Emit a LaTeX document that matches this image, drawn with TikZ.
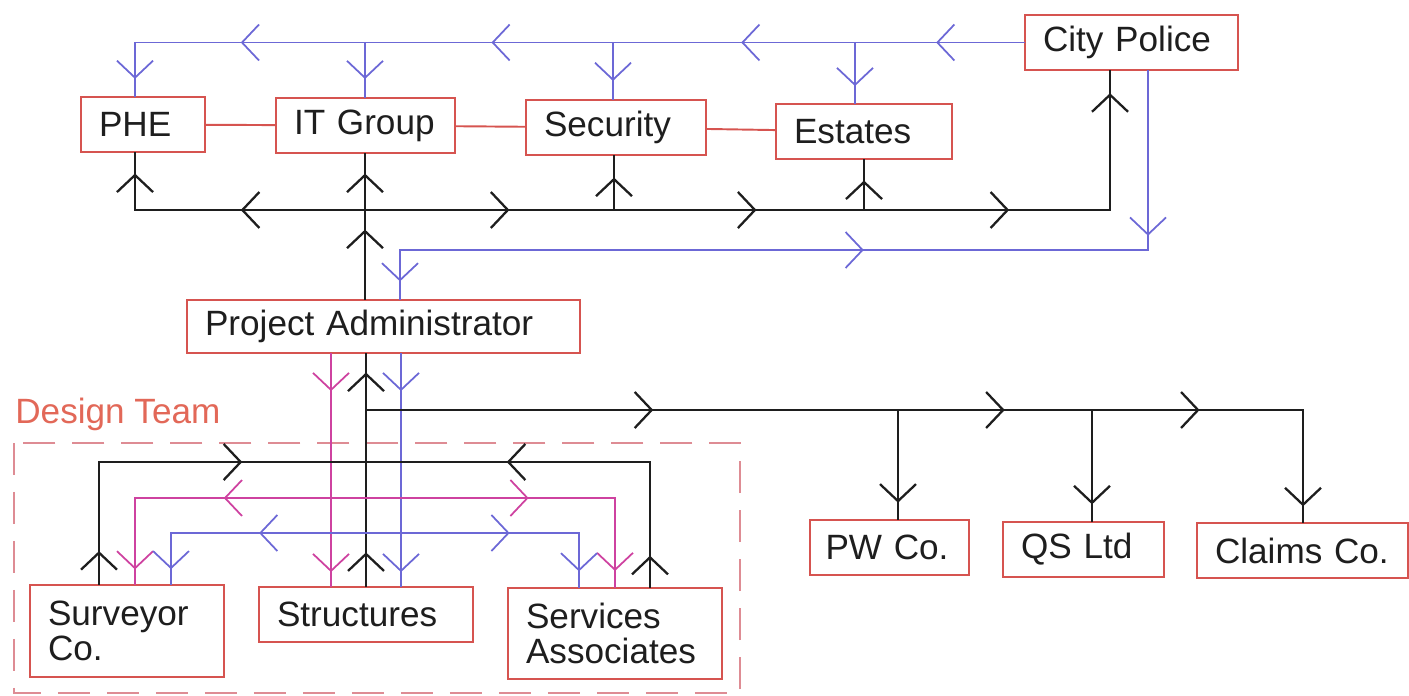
\documentclass[tikz,border=0pt]{standalone}
\usepackage{fontspec}
\setmainfont{Liberation Sans}
\usetikzlibrary{arrows.meta,decorations.markings}

\definecolor{boxred}{RGB}{214,84,80}
\definecolor{teamred}{RGB}{226,104,88}
\definecolor{dashred}{RGB}{222,140,148}
\definecolor{lineblue}{RGB}{108,104,214}
\definecolor{linemag}{RGB}{206,66,160}
\definecolor{lineblk}{RGB}{30,30,30}

\newcommand{\unitfont}{\fontsize{20}{20}\selectfont}

\tikzset{
  unit/.style={draw=boxred, line width=1.1pt, inner xsep=0.36cm, inner ysep=0pt,
    align=left, font=\unitfont, text=lineblk},
  blk/.style={draw=lineblk, line width=1.3pt, line cap=rect},
  blu/.style={draw=lineblue, line width=1pt, line cap=rect},
  mag/.style={draw=linemag, line width=1pt, line cap=rect},
  mid/.style={postaction={decorate,decoration={markings,
    mark=at position #1 with {\arrow{>}}}}},
  midrev/.style={postaction={decorate,decoration={markings,
    mark=at position #1 with {\arrowreversed{>}}}}},
}

\begin{document}
\begin{tikzpicture}[x=0.02cm, y=-0.02cm, >={Straight Barb[length=0.34cm,width=0.72cm]}]
        \useasboundingbox (0,0) rectangle (1409,696);

        \node[unit, text width=1.76cm, minimum height=1.1cm] (phe) at (143,124.5) {PHE};
        \node[unit, text width=2.86cm, minimum height=1.1cm] (it) at (365.5,125.5) {IT Group};
        \node[unit, text width=2.88cm, minimum height=1.1cm] (sec) at (616,127.5) {Security};
        \node[unit, text width=2.8cm, minimum height=1.1cm] (est) at (864,131.5) {Estates};
        \node[unit, text width=3.54cm, minimum height=1.1cm] (cp) at (1131.5,42.5) {City Police};

        \node[unit, text width=7.14cm, minimum height=1.06cm] (pa) at (383.5,326.5) {Project Administrator};

        \node[unit, text width=3.16cm, minimum height=1.84cm] (sur) at (127,631) {Surveyor\\Co.};
        \node[unit, text width=3.56cm, minimum height=1.1cm] (str) at (366,614.5) {Structures};
        \node[unit, text width=3.56cm, minimum height=1.82cm] (ser) at (615,633.5) {Services\\Associates};

        \node[unit, inner xsep=0.31cm, text width=2.56cm, minimum height=1.1cm] (pw) at (889.5,547.5) {PW Co.};
        \node[unit, text width=2.5cm, minimum height=1.1cm] (qs) at (1083.5,549.5) {QS Ltd};
        \node[unit, text width=3.5cm, minimum height=1.1cm] (cl) at (1302.5,550.5) {Claims Co.};

        \draw[draw=boxred, line width=1.1pt] (phe) -- (it);
        \draw[draw=boxred, line width=1.1pt] (it) -- (sec);
        \draw[draw=boxred, line width=1.1pt] (sec) -- (est);

        % design team frame
        \draw[draw=dashred, line width=0.8pt, dash pattern=on 0.64cm off 0.34cm] (14,443) rectangle (740,693);
        \node[anchor=base west, inner sep=0pt, font=\unitfont, text=teamred] (dt) at (15,423) {Design Team};

        % blue bus from City Police
        \coordinate (b0) at (135,42.5);
        \coordinate (b1) at (365,42.5);
        \coordinate (b2) at (613,42.5);
        \coordinate (b3) at (855,42.5);
        \draw[blu, mid=0.52] (cp.west) -- (b3);
        \draw[blu, mid=0.47] (b3) -- (b2);
        \draw[blu, mid=0.49] (b2) -- (b1);
        \draw[blu, mid=0.54] (b1) -- (b0);
        \draw[blu, mid=0.68] (b0) -- (b0 |- phe.north);
        \draw[blu, mid=0.67] (b1) -- (b1 |- it.north);
        \draw[blu, mid=0.68] (b2) -- (b2 |- sec.north);
        \draw[blu, mid=0.72] (b3) -- (b3 |- est.north);

        % black bus from the administrator
        \coordinate (k0) at (135,210);
        \coordinate (k1) at (365,210);
        \coordinate (k2) at (614,210);
        \coordinate (k3) at (864,210);
        \coordinate (k4) at (1110,210);
        \draw[blk, mid=0.78] (k1 |- pa.north) -- (k1);
        \draw[blk, mid=0.65] (k1) -- (k1 |- it.south);
        \draw[blk, mid=0.54] (k1) -- (k0);
        \draw[blk, mid=0.64] (k0) -- (k0 |- phe.south);
        \draw[blk, mid=0.58] (k1) -- (k2);
        \draw[blk, mid=0.57] (k2) -- (k3);
        \draw[blk, mid=0.59] (k3) -- (k4);
        \draw[blk, mid=0.84] (k4) -- (k4 |- cp.south);
        \draw[blk, mid=0.6] (k2) -- (k2 |- sec.south);
        \draw[blk, mid=0.59] (k3) -- (k3 |- est.south);

        % blue return to the administrator
        \coordinate (c0) at (1148,250);
        \coordinate (c1) at (400,250);
        \draw[blu, mid=0.92] (c0 |- cp.south) -- (c0);
        \draw[blu, midrev=0.38] (c0) -- (c1);
        \draw[blu, mid=0.64] (c1) -- (c1 |- pa.north);

        % administrator down to structures
        \coordinate (xm) at (331,400);
        \coordinate (xk) at (366,410);
        \coordinate (xb) at (401,400);
        \draw[mag, mid=0.16, mid=0.94] (xm |- pa.south) -- (xm |- str.north);
        \draw[blu, mid=0.16, mid=0.94] (xb |- pa.south) -- (xb |- str.north);
        \draw[blk, mid=0.145, mid=0.92] (xk |- str.north) -- (xk |- pa.south);

        % black bus to the consultants
        \coordinate (d1) at (898,410);
        \coordinate (d2) at (1092,410);
        \coordinate (d3) at (1303,410);
        \draw[blk, mid=0.54] (xk) -- (d1);
        \draw[blk, mid=0.55] (d1) -- (d2);
        \draw[blk, mid=0.51] (d2) -- (d3);
        \draw[blk, mid=0.85] (d1) -- (d1 |- pw.north);
        \draw[blk, mid=0.85] (d2) -- (d2 |- qs.north);
        \draw[blk, mid=0.86] (d3) -- (d3 |- cl.north);

        % links inside the design team
        \coordinate (e0) at (99,462);
        \coordinate (e1) at (650,462);
        \draw[blk, mid=0.27] (e0 |- sur.north) -- (e0);
        \draw[blk, mid=0.26, midrev=0.74] (e0) -- (e1);
        \draw[blk, mid=0.25] (e1 |- ser.north) -- (e1);

        \coordinate (f0) at (135,498);
        \coordinate (f1) at (615,498);
        \draw[mag, mid=0.83] (f0) -- (f0 |- sur.north);
        \draw[mag, midrev=0.185, mid=0.82] (f0) -- (f1);
        \draw[mag, mid=0.82] (f1) -- (f1 |- ser.north);

        \coordinate (g0) at (171,533);
        \coordinate (g1) at (579,533);
        \draw[blu, mid=0.71] (g0) -- (g0 |- sur.north);
        \draw[blu, midrev=0.216, mid=0.83] (g0) -- (g1);
        \draw[blu, mid=0.71] (g1) -- (g1 |- ser.north);
\end{tikzpicture}
\end{document}
